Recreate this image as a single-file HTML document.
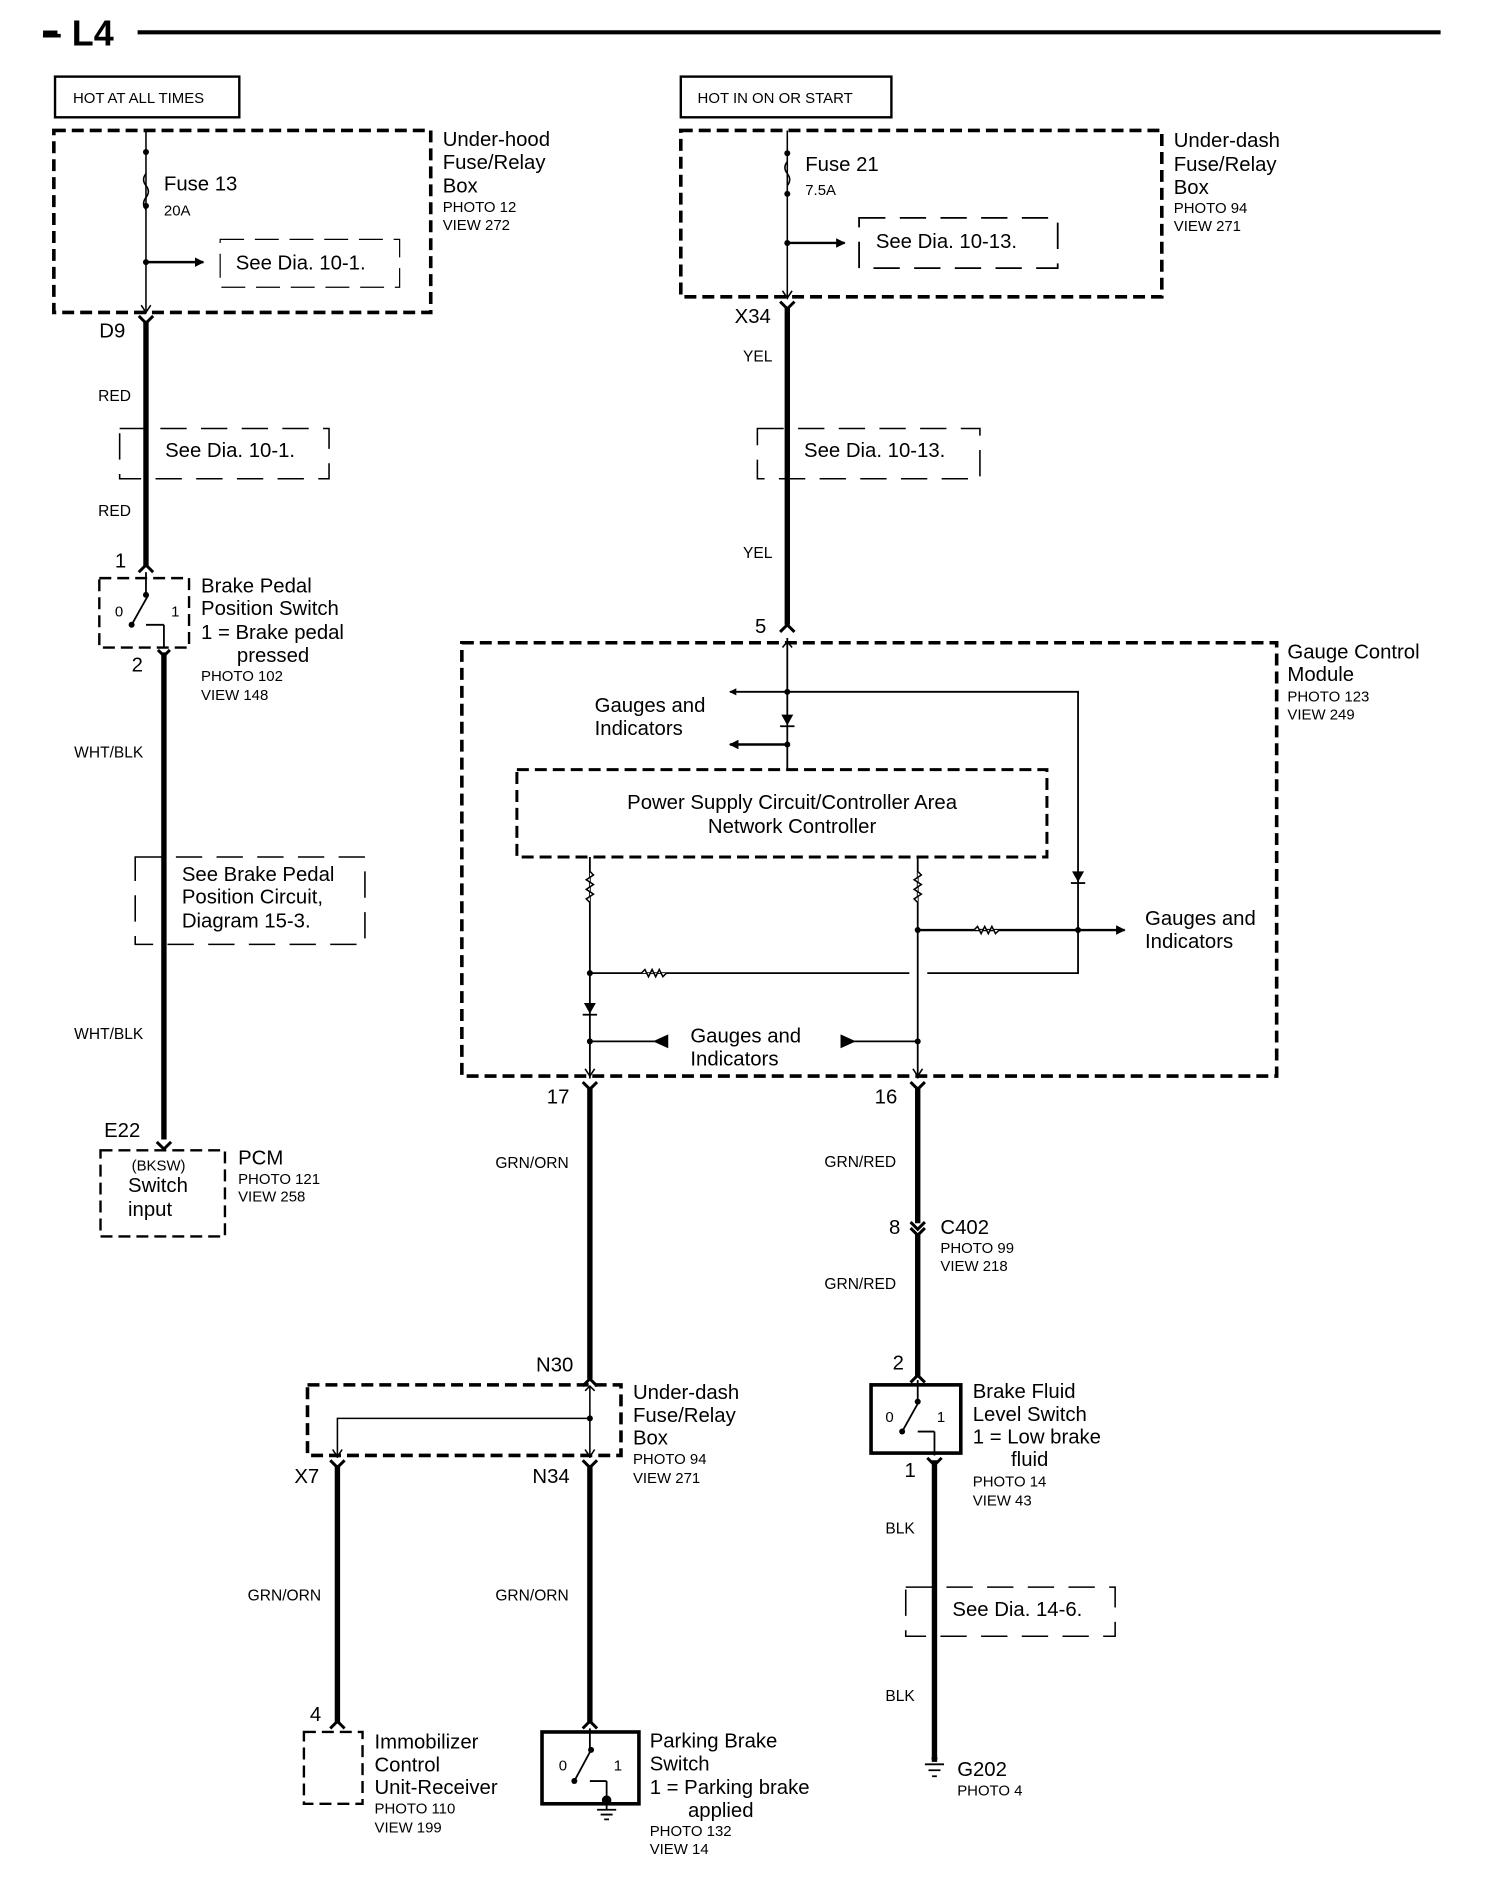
<!DOCTYPE html>
<html><head><meta charset="utf-8"><style>
html,body{margin:0;padding:0;background:#fff}
svg{display:block}
text{font-family:"Liberation Sans",Arial,sans-serif;fill:#000}
.m{font-size:17px}
.s{font-size:12.5px}
.w{font-size:13px}
</style></head><body>
<svg width="1504" height="1878" viewBox="0 0 1257 1569" preserveAspectRatio="none" xmlns="http://www.w3.org/2000/svg">
<defs>
<marker id="ar" viewBox="0 0 10 10" refX="9" refY="5" markerWidth="4" markerHeight="4" orient="auto"><path d="M0,0 L10,5 L0,10z" fill="#000"/></marker>
</defs>
<g fill="none" stroke="#000">
<line x1="36" y1="27" x2="48" y2="27" stroke-width="3"/>
<line x1="115" y1="27" x2="1204" y2="27" stroke-width="3.5"/>
<rect x="46" y="64" width="154" height="34" stroke-width="2"/>
<rect x="569" y="64" width="176" height="34" stroke-width="2"/>
<rect x="45" y="109" width="315" height="152" stroke-width="3" stroke-dasharray="10,5"/>
<rect x="569" y="109" width="402" height="139" stroke-width="3" stroke-dasharray="10,5"/>
<line x1="122" y1="109" x2="122" y2="262" stroke-width="1.3"/>
<path d="M122,145 q-4,5 0,10 q4,5 0,10 q-4,5 0,10" stroke-width="1.3"/>
<line x1="122" y1="219" x2="170" y2="219" stroke-width="2" marker-end="url(#ar)"/>
<path d="M184,200 H334 V240 H184z" stroke-width="1" stroke-dasharray="20,9"/>
<line x1="658" y1="109" x2="658" y2="250" stroke-width="1.3"/>
<path d="M658,135 q-4,5 0,10 q4,5 0,10" stroke-width="1.3"/>
<line x1="658" y1="203" x2="706" y2="203" stroke-width="2" marker-end="url(#ar)"/>
<path d="M718,182 H884 V224 H718z" stroke-width="1.5" stroke-dasharray="22,12"/>
<path d="M118,255 L122,261 L126,255 M654,243 L658,249 L662,243" stroke-width="1.3"/>
<path d="M116,264 L122,270 L128,264 M652,252 L658,258 L664,252" stroke-width="2.5"/>
<line x1="122" y1="268" x2="122" y2="474" stroke-width="4.5"/>
<path d="M100,358 H275 V400 H100z" stroke-width="1.3" stroke-dasharray="22,12"/>
<path d="M116,478 L122,472 L128,478" stroke-width="2.5"/>
<rect x="83" y="483" width="75" height="58" stroke-width="2" stroke-dasharray="10,5"/>
<line x1="122" y1="478" x2="122" y2="497" stroke-width="1.5"/>
<line x1="110" y1="522" x2="124" y2="497" stroke-width="1.5"/>
<line x1="122" y1="522" x2="137" y2="522" stroke-width="1.5"/>
<line x1="137" y1="522" x2="137" y2="541" stroke-width="1.5"/>
<path d="M132,543 L137,548 L142,543" stroke-width="2.5"/>
<line x1="137" y1="545" x2="137" y2="952" stroke-width="4.5"/>
<path d="M113,716 H305 V789 H113z" stroke-width="1.3" stroke-dasharray="22,12"/>
<path d="M131,954 L137,960 L143,954" stroke-width="2.5"/>
<rect x="84" y="961" width="104" height="72" stroke-width="2" stroke-dasharray="10,5"/>
<line x1="658" y1="257" x2="658" y2="522" stroke-width="4.5"/>
<path d="M633,358 H819 V400 H633z" stroke-width="1.3" stroke-dasharray="22,12"/>
<path d="M652,528 L658,522 L664,528" stroke-width="2.5"/>
<rect x="386" y="537" width="681" height="362" stroke-width="3" stroke-dasharray="10,5"/>
<line x1="658" y1="533" x2="658" y2="642" stroke-width="1.5"/>
<path d="M654,541 L658,536 L662,541" stroke-width="1.3"/>
<line x1="658" y1="578" x2="610" y2="578" stroke-width="1.5" marker-end="url(#ar)"/>
<polyline points="658,578 901,578 901,813 775,813" stroke-width="1.5"/>
<line x1="658" y1="622" x2="610" y2="622" stroke-width="2" marker-end="url(#ar)"/>
<rect x="432" y="643" width="443" height="73" stroke-width="2.5" stroke-dasharray="10,5"/>
<line x1="493" y1="716" x2="493" y2="901" stroke-width="1.5"/>
<path d="M493,728 l3,3 l-6,4 l6,4 l-6,4 l6,4 l-6,4 l3,3" stroke-width="1.3" fill="#fff"/>
<line x1="493" y1="813" x2="760" y2="813" stroke-width="1.5"/>
<path d="M536,813 l3,-3 l3,6 l3,-6 l3,6 l3,-6 l3,6 l3,-3" stroke-width="1.3" fill="#fff"/>
<line x1="493" y1="870" x2="555" y2="870" stroke-width="1.5"/>
<path d="M547,870 L558,865 L558,875z" fill="#000"/>
<line x1="767" y1="716" x2="767" y2="901" stroke-width="1.5"/>
<path d="M767,728 l3,3 l-6,4 l6,4 l-6,4 l6,4 l-6,4 l3,3" stroke-width="1.3" fill="#fff"/>
<line x1="767" y1="777" x2="940" y2="777" stroke-width="2" marker-end="url(#ar)"/>
<path d="M814,777 l3,-3 l3,6 l3,-6 l3,6 l3,-6 l3,6 l3,-3" stroke-width="1.3" fill="#fff"/>
<line x1="713" y1="870" x2="767" y2="870" stroke-width="1.5"/>
<path d="M714,870 L703,865 L703,875z" fill="#000"/>
<path d="M489,893 L493,899 L497,893 M763,893 L767,899 L771,893" stroke-width="1.3"/>
<path d="M487,904 L493,910 L499,904 M761,904 L767,910 L773,904" stroke-width="2.5"/>
<line x1="493" y1="908" x2="493" y2="1152" stroke-width="4.5"/>
<line x1="767" y1="908" x2="767" y2="1022" stroke-width="4.5"/>
<path d="M761,1021 L767,1027 L773,1021 M761,1026 L767,1032 L773,1026" stroke-width="2.5"/>
<line x1="767" y1="1030" x2="767" y2="1150" stroke-width="4.5"/>
<path d="M761,1155 L767,1149 L773,1155" stroke-width="2.5"/>
<rect x="728" y="1157" width="75" height="57" stroke-width="3"/>
<line x1="767" y1="1153" x2="767" y2="1171" stroke-width="1.5"/>
<line x1="754" y1="1196" x2="768" y2="1171" stroke-width="1.5"/>
<line x1="767" y1="1196" x2="781" y2="1196" stroke-width="1.5"/>
<line x1="781" y1="1196" x2="781" y2="1216" stroke-width="1.5"/>
<path d="M775,1218 L781,1224 L787,1218" stroke-width="2.5"/>
<line x1="781" y1="1220" x2="781" y2="1472" stroke-width="4.5"/>
<path d="M757,1326 H932 V1367 H757z" stroke-width="1.3" stroke-dasharray="22,12"/>
<path d="M773,1474 H789 M776,1479 H786 M779,1484 H783" stroke-width="1.5"/>
<path d="M487,1158 L493,1152 L499,1158" stroke-width="2.5"/>
<rect x="257" y="1157" width="262" height="59" stroke-width="3" stroke-dasharray="10,5"/>
<line x1="493" y1="1158" x2="493" y2="1218" stroke-width="1.3"/>
<polyline points="493,1185 282,1185 282,1218" stroke-width="1.3"/>
<path d="M489,1162 L493,1158 L497,1162 M278,1211 L282,1217 L286,1211 M489,1211 L493,1217 L497,1211" stroke-width="1.3"/>
<path d="M276,1220 L282,1226 L288,1220 M487,1220 L493,1226 L499,1220" stroke-width="2.5"/>
<line x1="282" y1="1224" x2="282" y2="1440" stroke-width="4.5"/>
<line x1="493" y1="1224" x2="493" y2="1440" stroke-width="4.5"/>
<path d="M276,1444 L282,1438 L288,1444 M487,1444 L493,1438 L499,1444" stroke-width="2.5"/>
<rect x="254" y="1447" width="49" height="60" stroke-width="2" stroke-dasharray="10,5"/>
<rect x="453" y="1447" width="81" height="60" stroke-width="3"/>
<line x1="493" y1="1444" x2="493" y2="1462" stroke-width="1.5"/>
<line x1="480" y1="1488" x2="494" y2="1462" stroke-width="1.5"/>
<line x1="493" y1="1488" x2="507" y2="1488" stroke-width="1.5"/>
<line x1="507" y1="1488" x2="507" y2="1512" stroke-width="1.5"/>
<path d="M499,1512 H515 M502,1516 H512 M505,1520 H509" stroke-width="1.5"/>
</g>
<g fill="#000">
<circle cx="122" cy="127" r="2.5"/><circle cx="122" cy="172" r="2.5"/><circle cx="122" cy="219" r="2.5"/>
<circle cx="658" cy="128" r="2.5"/><circle cx="658" cy="162" r="2.5"/><circle cx="658" cy="203" r="2.5"/>
<circle cx="122" cy="497" r="2.5"/><circle cx="110" cy="522" r="2.5"/>
<circle cx="658" cy="578" r="2.5"/><circle cx="658" cy="622" r="2.5"/><circle cx="901" cy="777" r="2.5"/>
<circle cx="493" cy="813" r="2.5"/><circle cx="493" cy="870" r="2.5"/><circle cx="767" cy="777" r="2.5"/><circle cx="767" cy="870" r="2.5"/>
<circle cx="493" cy="1185" r="2.5"/><circle cx="767" cy="1171" r="2.5"/><circle cx="754" cy="1196" r="2.5"/>
<circle cx="494" cy="1462" r="2.5"/><circle cx="480" cy="1488" r="2.5"/><circle cx="507" cy="1504" r="4"/><circle cx="781" cy="1469" r="2.5"/>
<path d="M653,597 L663,597 L658,606z"/><rect x="652" y="606" width="12" height="1.5"/>
<path d="M896,728 L906,728 L901,737z"/><rect x="895" y="737" width="12" height="1.5"/>
<path d="M488,838 L498,838 L493,847z"/><rect x="487" y="847" width="12" height="1.5"/>
</g>
<text x="35" y="38" style="font-size:30px;font-weight:bold">– L4</text>
<text x="61" y="86" class="s">HOT AT ALL TIMES</text>
<text x="583" y="86" class="s">HOT IN ON OR START</text>
<text x="137" y="159" class="m">Fuse 13</text><text x="137" y="180" class="s">20A</text>
<text x="197" y="225" class="m">See Dia. 10-1.</text>
<text x="370" y="122" class="m">Under-hood</text><text x="370" y="141" class="m">Fuse/Relay</text><text x="370" y="161" class="m">Box</text>
<text x="370" y="177" class="s">PHOTO 12</text><text x="370" y="192" class="s">VIEW 272</text>
<text x="673" y="143" class="m">Fuse 21</text><text x="673" y="163" class="s">7.5A</text>
<text x="732" y="207" class="m">See Dia. 10-13.</text>
<text x="981" y="123" class="m">Under-dash</text><text x="981" y="143" class="m">Fuse/Relay</text><text x="981" y="162" class="m">Box</text>
<text x="981" y="178" class="s">PHOTO 94</text><text x="981" y="193" class="s">VIEW 271</text>
<text x="83" y="282" class="m">D9</text><text x="614" y="270" class="m">X34</text>
<text x="82" y="335" class="w">RED</text><text x="138" y="382" class="m">See Dia. 10-1.</text><text x="82" y="431" class="w">RED</text>
<text x="621" y="302" class="w">YEL</text><text x="672" y="382" class="m">See Dia. 10-13.</text><text x="621" y="466" class="w">YEL</text>
<text x="96" y="474" class="m">1</text>
<text x="96" y="515" class="s">0</text><text x="143" y="515" class="s">1</text>
<text x="110" y="561" class="m">2</text>
<text x="168" y="495" class="m">Brake Pedal</text><text x="168" y="514" class="m">Position Switch</text>
<text x="168" y="534" class="m">1 = Brake pedal</text><text x="198" y="553" class="m">pressed</text>
<text x="168" y="569" class="s">PHOTO 102</text><text x="168" y="585" class="s">VIEW 148</text>
<text x="62" y="633" class="w">WHT/BLK</text>
<text x="152" y="736" class="m">See Brake Pedal</text><text x="152" y="755" class="m">Position  Circuit,</text><text x="152" y="775" class="m">Diagram 15-3.</text>
<text x="62" y="868" class="w">WHT/BLK</text>
<text x="87" y="950" class="m">E22</text>
<text x="110" y="978" class="s">(BKSW)</text><text x="107" y="996" class="m">Switch</text><text x="107" y="1016" class="m">input</text>
<text x="199" y="973" class="m">PCM</text><text x="199" y="989" class="s">PHOTO 121</text><text x="199" y="1004" class="s">VIEW 258</text>
<text x="631" y="529" class="m">5</text>
<text x="1076" y="550" class="m">Gauge Control</text><text x="1076" y="569" class="m">Module</text>
<text x="1076" y="586" class="s">PHOTO 123</text><text x="1076" y="601" class="s">VIEW 249</text>
<text x="497" y="595" class="m">Gauges and</text><text x="497" y="614" class="m">Indicators</text>
<text x="662" y="676" class="m" text-anchor="middle">Power Supply Circuit/Controller Area</text>
<text x="662" y="696" class="m" text-anchor="middle">Network Controller</text>
<text x="957" y="773" class="m">Gauges and</text><text x="957" y="792" class="m">Indicators</text>
<text x="577" y="871" class="m">Gauges and</text><text x="577" y="890" class="m">Indicators</text>
<text x="457" y="922" class="m">17</text><text x="731" y="922" class="m">16</text>
<text x="414" y="976" class="w">GRN/ORN</text><text x="689" y="975" class="w">GRN/RED</text>
<text x="743" y="1031" class="m">8</text><text x="786" y="1031" class="m">C402</text>
<text x="786" y="1047" class="s">PHOTO 99</text><text x="786" y="1062" class="s">VIEW 218</text>
<text x="689" y="1077" class="w">GRN/RED</text>
<text x="448" y="1146" class="m">N30</text>
<text x="529" y="1169" class="m">Under-dash</text><text x="529" y="1188" class="m">Fuse/Relay</text><text x="529" y="1207" class="m">Box</text>
<text x="529" y="1223" class="s">PHOTO 94</text><text x="529" y="1239" class="s">VIEW 271</text>
<text x="246" y="1239" class="m">X7</text><text x="445" y="1239" class="m">N34</text>
<text x="746" y="1144" class="m">2</text>
<text x="740" y="1188" class="s">0</text><text x="783" y="1188" class="s">1</text>
<text x="756" y="1234" class="m">1</text>
<text x="813" y="1168" class="m">Brake Fluid</text><text x="813" y="1187" class="m">Level Switch</text>
<text x="813" y="1206" class="m">1 = Low brake</text><text x="845" y="1225" class="m">fluid</text>
<text x="813" y="1242" class="s">PHOTO 14</text><text x="813" y="1258" class="s">VIEW 43</text>
<text x="740" y="1281" class="w">BLK</text><text x="796" y="1350" class="m">See Dia. 14-6.</text><text x="740" y="1421" class="w">BLK</text>
<text x="800" y="1484" class="m">G202</text><text x="800" y="1500" class="s">PHOTO 4</text>
<text x="207" y="1337" class="w">GRN/ORN</text><text x="414" y="1337" class="w">GRN/ORN</text>
<text x="259" y="1438" class="m">4</text>
<text x="313" y="1461" class="m">Immobilizer</text><text x="313" y="1480" class="m">Control</text><text x="313" y="1499" class="m">Unit-Receiver</text>
<text x="313" y="1515" class="s">PHOTO 110</text><text x="313" y="1531" class="s">VIEW 199</text>
<text x="467" y="1479" class="s">0</text><text x="513" y="1479" class="s">1</text>
<text x="543" y="1460" class="m">Parking Brake</text><text x="543" y="1479" class="m">Switch</text>
<text x="543" y="1499" class="m">1 = Parking brake</text><text x="575" y="1518" class="m">applied</text>
<text x="543" y="1534" class="s">PHOTO 132</text><text x="543" y="1549" class="s">VIEW 14</text>
</svg>
</body></html>
